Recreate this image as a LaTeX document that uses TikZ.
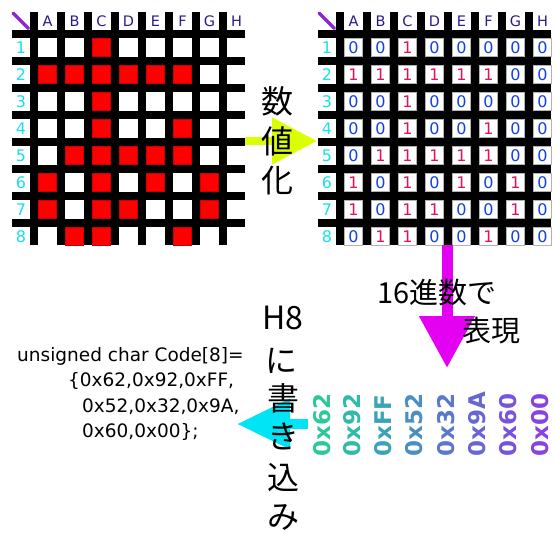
\documentclass[tikz,border=0pt]{standalone}
\usepackage{fontspec}
\setmainfont{DejaVu Sans}
\newfontfamily\jpfont{Noto Sans CJK JP}
\usetikzlibrary{arrows.meta}
\definecolor{cellred}{RGB}{255,0,0}
\definecolor{one}{RGB}{230,16,90}
\definecolor{zero}{RGB}{16,64,230}
\definecolor{lett}{RGB}{48,24,140}
\definecolor{rown}{RGB}{24,224,240}
\definecolor{diag}{RGB}{140,40,210}
\definecolor{yel}{RGB}{220,255,0}
\definecolor{mag}{RGB}{228,0,240}
\definecolor{cya}{RGB}{0,228,245}
\definecolor{hx1}{RGB}{44,200,156}
\definecolor{hx2}{RGB}{48,186,168}
\definecolor{hx3}{RGB}{60,162,184}
\definecolor{hx4}{RGB}{76,142,194}
\definecolor{hx5}{RGB}{90,120,204}
\definecolor{hx6}{RGB}{104,102,212}
\definecolor{hx7}{RGB}{120,84,220}
\definecolor{hx8}{RGB}{136,68,226}
\tikzset{
  bar/.style={fill=black},
  redcell/.style={fill=cellred, draw=cellred!80!black, line width=0.4pt, minimum size=18pt, inner sep=0pt},
  digcell/.style={fill=white, draw=black!30, line width=0.5pt, minimum size=18pt, inner sep=0pt, font=\fontsize{16}{16}\selectfont},
  collab/.style={text=lett, font=\fontsize{14.5}{14.5}\selectfont, inner sep=0pt},
  rowlab/.style={text=rown, font=\fontsize{16}{16}\selectfont, inner sep=0pt},
  diagline/.style={draw=diag, line width=3.5pt, line cap=round},
  jp/.style={font=\jpfont\fontsize{32}{32}\selectfont, inner sep=0pt},
  jps/.style={font=\jpfont\fontsize{29}{29}\selectfont, inner sep=0pt},
  code/.style={font=\fontsize{18.5}{18.5}\selectfont, inner sep=0pt, anchor=base west},
  hexl/.style={font=\bfseries\fontsize{23}{23}\selectfont, inner sep=0pt, rotate=90, anchor=west},
}
\begin{document}
\begin{tikzpicture}[x=1pt,y=-1pt]
\useasboundingbox (0,0) rectangle (555,533);
\fill[white] (0,0) rectangle (555,533);
% grids
\foreach \ox/\g in {0/L,306/R}{
  \foreach \k in {0,...,7}{
    \fill[bar] (\ox+12,30+27*\k) rectangle (\ox+245,38+27*\k);
    \fill[bar] (\ox+30+27*\k,12) rectangle (\ox+38+27*\k,245);
  }
  \draw[diagline] (\ox+13,13) -- (\ox+28.5,28.5);
  \foreach \l [count=\c] in {A,B,C,D,E,F,G,H}
    \node[collab] (\g-col-\c) at (\ox+20.5+27*\c,21) {\l};
  \foreach \c in {1,...,8}
    \node[rowlab] (\g-row-\c) at (\ox+21,20.5+27*\c) {\c};
}
\foreach \row [count=\r] in {{0,0,1,0,0,0,0,0},{1,1,1,1,1,1,0,0},{0,0,1,0,0,0,0,0},{0,0,1,0,0,1,0,0},{0,1,1,1,1,1,0,0},{1,0,1,0,1,0,1,0},{1,0,1,1,0,0,1,0},{0,1,1,0,0,1,0,0}}{
  \foreach \v [count=\c] in \row {
    \ifnum\v=1 \def\dc{one}\node[redcell] (L-\r-\c) at (20.5+27*\c,20.5+27*\r) {};\else\def\dc{zero}\fi
    \node[digcell, text=\dc] (R-\r-\c) at (306+20.5+27*\c,20.5+27*\r) {\v};
  }
}
% arrows
\coordinate (ya) at (245,141);
\coordinate (yb) at (317,141);
\draw[draw=yel, line width=8pt, -{Triangle[width=45pt,length=45pt]}] (ya) -- (yb);
\coordinate (ma) at (447,245);
\coordinate (mb) at (447,368);
\draw[draw=mag, line width=11pt, -{Triangle[width=53pt,length=52pt]}] (ma) -- (mb);
\coordinate (ca) at (308,424);
\coordinate (cb) at (237,424);
\draw[draw=cya, line width=10pt, -{Triangle[width=48pt,length=53pt]}] (ca) -- (cb);
% japanese texts
\node[jp] (t1) at (277,101) {数};
\node[jp] (t2) at (277,141) {値};
\node[jp] (t3) at (277,181) {化};
\node[jps] (s1) at (437,293) {16進数で};
\node[jps] (s2) at (491,331) {表現};
\node[jp] (w1) at (283,318) {H8};
\node[jp] (w2) at (281,361) {に};
\node[jp] (w3) at (283,398) {書};
\node[jp] (w4) at (283,436) {き};
\node[jp] (w5) at (283,478) {込};
\node[jp] (w6) at (283,517) {み};
% hex labels
\foreach \t/\x [count=\i] in {0x62/322,0x92/352,0xFF/383,0x52/414,0x32/446,0x9A/477,0x60/508,0x00/540}
  \node[hexl, text=hx\i] (hex\i) at (\x,457) {\t};
% code
\node[code] (c1) at (17,361) {unsigned char Code[8]=};
\node[code] (c2) at (68,386.5) {\{0x62,0x92,0xFF,};
\node[code] (c3) at (82,412) {0x52,0x32,0x9A,};
\node[code] (c4) at (82,437.5) {0x60,0x00\};};
\end{tikzpicture}
\end{document}
